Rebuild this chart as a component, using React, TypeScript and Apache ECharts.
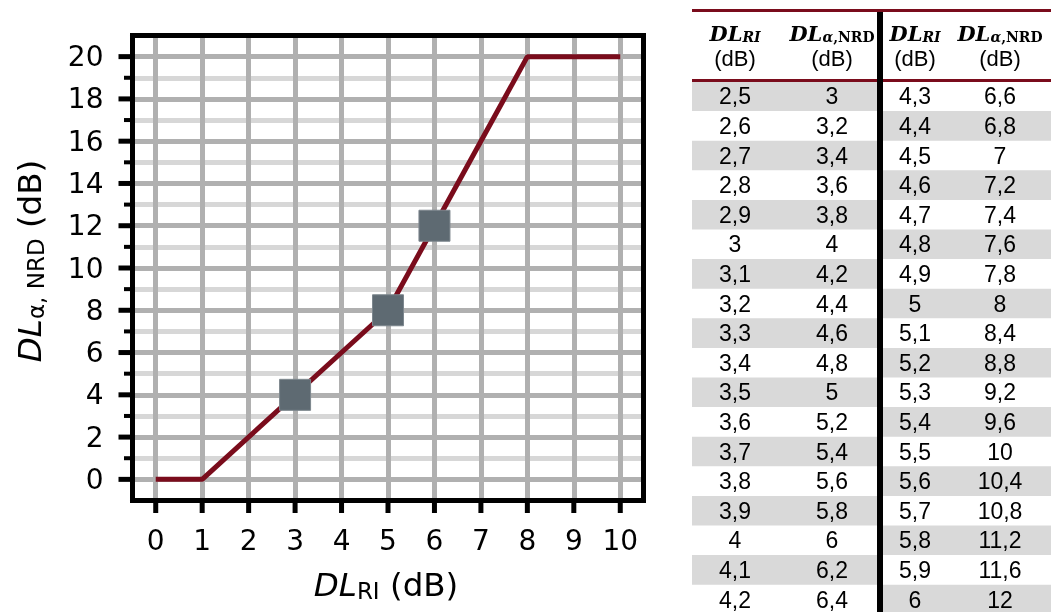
import React, { useEffect, useRef } from "react";
import * as echarts from "echarts";

// ---- data ----
const xMin = -0.5;
const xMax = 10.5;
const yMin = -1;
const yMax = 21;
const xTicks = [0, 1, 2, 3, 4, 5, 6, 7, 8, 9, 10];
const yMajorTicks = [0, 2, 4, 6, 8, 10, 12, 14, 16, 18, 20];
const yMinorTicks = [1, 3, 5, 7, 9, 11, 13, 15, 17, 19];
const curveX = [0, 1, 5, 8, 10];
const curveY = [0, 0, 8, 20, 20];
const markerX = [3, 5, 6];
const markerY = [4, 8, 12];
const riLeft = [2.5, 2.6, 2.7, 2.8, 2.9, 3, 3.1, 3.2, 3.3, 3.4, 3.5, 3.6, 3.7, 3.8, 3.9, 4, 4.1, 4.2];
const nrdLeft = [3, 3.2, 3.4, 3.6, 3.8, 4, 4.2, 4.4, 4.6, 4.8, 5, 5.2, 5.4, 5.6, 5.8, 6, 6.2, 6.4];
const riRight = [4.3, 4.4, 4.5, 4.6, 4.7, 4.8, 4.9, 5, 5.1, 5.2, 5.3, 5.4, 5.5, 5.6, 5.7, 5.8, 5.9, 6];
const nrdRight = [6.6, 6.8, 7, 7.2, 7.4, 7.6, 7.8, 8, 8.4, 8.8, 9.2, 9.6, 10, 10.4, 10.8, 11.2, 11.6, 12];

const fmt = (v: number) => String(v).replace(".", ",");

const RED = "#7a0c1c";
const GRID_MAJOR = "#b0b0b0";
const GRID_MINOR = "#d7d7d7";
const ROW_GRAY = "#d9d9d9";

function buildTable(): any[] {
  const x0 = 692;
  const x1 = 1051;
  const sepX = 877;
  const sepW = 6;
  const rowTop = 81.5;
  const rowH = 29.6;
  const cols = [735, 832, 915, 1000];
  const els: any[] = [];
  const dataFont = { fontFamily: "Liberation Sans", fontSize: 23, fill: "#000" };

  for (let i = 0; i < riLeft.length; i++) {
    const y = rowTop + i * rowH;
    if (i % 2 === 0) {
      els.push({ type: "rect", shape: { x: x0, y, width: sepX - x0, height: rowH }, style: { fill: ROW_GRAY }, silent: true, z: 1 });
    } else {
      els.push({ type: "rect", shape: { x: sepX + sepW, y, width: x1 - sepX - sepW, height: rowH }, style: { fill: ROW_GRAY }, silent: true, z: 1 });
    }
  }
  els.push({ type: "rect", shape: { x: x0, y: 9, width: x1 - x0, height: 3 }, style: { fill: RED }, silent: true, z: 2 });
  els.push({ type: "rect", shape: { x: x0, y: 79, width: x1 - x0, height: 3 }, style: { fill: RED }, silent: true, z: 2 });
  els.push({ type: "rect", shape: { x: sepX, y: 12, width: sepW, height: 612 - 12 }, style: { fill: "#000" }, silent: true, z: 3 });

  const headRich = {
    i: { fontFamily: "DejaVu Serif", fontWeight: "bold", fontStyle: "italic", fontSize: 21, lineHeight: 22 },
    s: { fontFamily: "DejaVu Serif", fontWeight: "bold", fontStyle: "italic", fontSize: 14, lineHeight: 14, verticalAlign: "bottom" },
    u: { fontFamily: "DejaVu Serif", fontWeight: "bold", fontSize: 14, lineHeight: 14, verticalAlign: "bottom" },
  };
  const heads = ["{i|DL}{s|RI}", "{i|DL}{s|α}{u|,NRD}", "{i|DL}{s|RI}", "{i|DL}{s|α}{u|,NRD}"];
  heads.forEach((h, k) => {
    els.push({
      type: "text", x: cols[k], y: 33, z: 4, silent: true,
      style: { text: h, rich: headRich, align: "center", verticalAlign: "middle", textAlign: "center", textVerticalAlign: "middle", fill: "#000" },
    });
    els.push({
      type: "text", x: cols[k], y: 58, z: 4, silent: true,
      style: { text: "(dB)", fontFamily: "Liberation Sans", fontSize: 22, lineHeight: 22, fill: "#000", align: "center", verticalAlign: "middle", textAlign: "center", textVerticalAlign: "middle" },
    });
  });

  const colsData = [riLeft, nrdLeft, riRight, nrdRight];
  colsData.forEach((arr, k) => {
    arr.forEach((v, i) => {
      els.push({
        type: "text", x: cols[k], y: rowTop + i * rowH + rowH / 2, z: 4, silent: true,
        style: { text: fmt(v), ...dataFont, align: "center", verticalAlign: "middle", textAlign: "center", textVerticalAlign: "middle" },
      });
    });
  });
  return els;
}

// tick marks drawn through the axes' scales
function tickSeries(data: number[][], kind: "x" | "y", len: number, thick: number) {
  return {
    type: "custom",
    z: 11,
    silent: true,
    clip: false,
    data,
    renderItem: (_params: any, api: any) => {
      const p = api.coord([api.value(0), api.value(1)]);
      const shape =
        kind === "x"
          ? { x: p[0] - thick / 2, y: p[1], width: thick, height: len }
          : { x: p[0] - len, y: p[1] - thick / 2, width: len, height: thick };
      return { type: "rect", shape, style: { fill: "#000" } };
    },
  };
}

export default function App() {
  const ref = useRef<HTMLDivElement>(null);

  useEffect(() => {
    if (!ref.current) return;
    const chart = echarts.init(ref.current, null, { renderer: "svg" });
    const tickFont = { fontFamily: "DejaVu Sans", fontSize: 28, color: "#000" };
    const nameRich = {
      i: { fontFamily: "DejaVu Sans", fontStyle: "italic", fontSize: 32.5, lineHeight: 36, color: "#000" },
      s: { fontFamily: "DejaVu Sans", fontSize: 23, lineHeight: 23, verticalAlign: "bottom", color: "#000" },
      n: { fontFamily: "DejaVu Sans", fontSize: 32.5, lineHeight: 36, color: "#000" },
    };
    const axisLine = { show: true, onZero: false, lineStyle: { color: "#000", width: 5 } };

    const gridLines = [
      ...yMinorTicks.map((v) => ({ yAxis: v, lineStyle: { color: GRID_MINOR, width: 5, type: "solid" } })),
      ...yMajorTicks.map((v) => ({ yAxis: v })),
      ...xTicks.map((v) => ({ xAxis: v })),
    ];

    chart.setOption({
      animation: false,
      grid: {
        left: 132.5, top: 35.5, width: 511, height: 465,
        show: true, borderColor: "#000", borderWidth: 5, backgroundColor: "transparent", z: 10,
      },
      xAxis: {
        type: "value", min: xMin, max: xMax, position: "bottom", z: 11,
        axisLine,
        axisTick: { show: false },
        axisLabel: { show: true, customValues: xTicks, margin: 26, ...tickFont },
        splitLine: { show: false },
        name: "{i|DL}{s|RI}{n| (dB)}",
        nameLocation: "middle",
        nameGap: 66,
        nameTextStyle: { rich: nameRich, padding: [0, 4, 0, 0] },
      },
      yAxis: {
        type: "value", min: yMin, max: yMax, position: "left", z: 11,
        axisLine,
        axisTick: { show: false },
        axisLabel: { show: true, customValues: yMajorTicks, margin: 29, ...tickFont },
        splitLine: { show: false },
        name: "{i|DL}{s|α, NRD}{n| (dB)}",
        nameLocation: "middle",
        nameRotate: 90,
        nameGap: 85,
        nameTextStyle: { rich: nameRich, padding: [0, 0, 0, 14] },
      },
      series: [
        {
          type: "line", data: [], silent: true, z: 1,
          markLine: {
            silent: true, z: 1, animation: false,
            symbol: ["none", "none"],
            label: { show: false },
            emphasis: { disabled: true },
            lineStyle: { color: GRID_MAJOR, width: 5, type: "solid" },
            data: gridLines,
          },
        },
        {
          type: "line", z: 6, silent: true,
          data: curveX.map((x, i) => [x, curveY[i]]),
          symbol: "none", showSymbol: false,
          lineStyle: { color: RED, width: 5 },
        },
        {
          type: "scatter", z: 7, silent: true,
          data: markerX.map((x, i) => [x, markerY[i]]),
          symbol: "rect", symbolSize: 31,
          itemStyle: { color: "#5e6a72", borderColor: "#7d878e", borderWidth: 1, opacity: 1 },
        },
        tickSeries(xTicks.map((v) => [v, yMin]), "x", 12.5, 5),
        tickSeries(yMajorTicks.map((v) => [xMin, v]), "y", 14, 5),
        tickSeries(yMinorTicks.map((v) => [xMin, v]), "y", 8.5, 4),
      ],
      graphic: { elements: buildTable() },
    });

    return () => chart.dispose();
  }, []);

  return <div ref={ref} style={{ position: "fixed", left: 0, top: 0, width: 1051, height: 612 }} />;
}
